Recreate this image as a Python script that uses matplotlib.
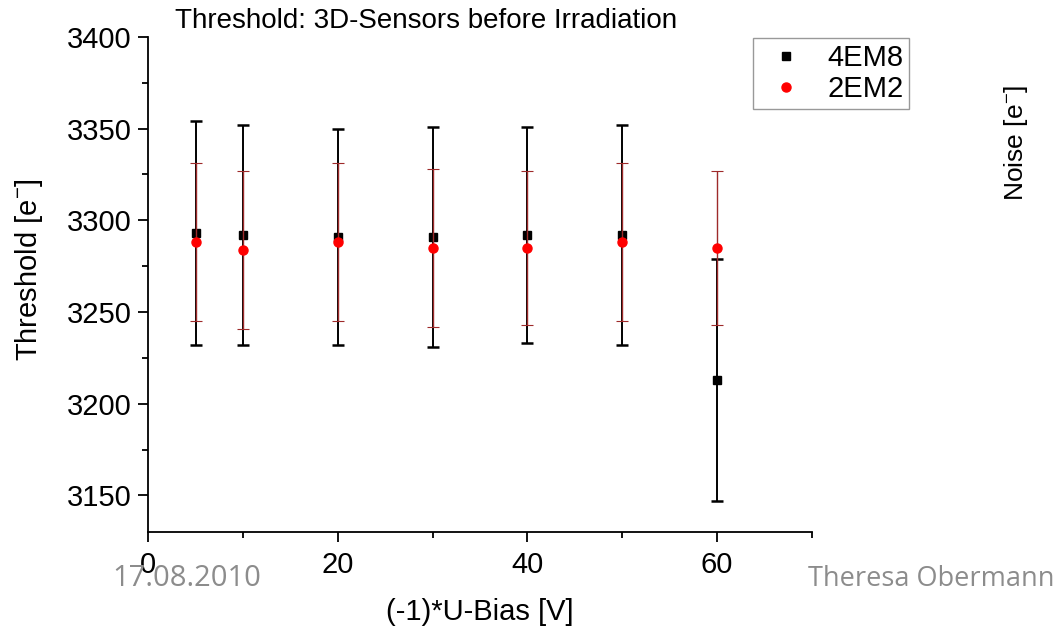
import matplotlib.pyplot as plt
from matplotlib.lines import Line2D
from matplotlib.ticker import MultipleLocator

plt.rcParams['font.family'] = ['Liberation Sans', 'DejaVu Sans']
plt.rcParams['mathtext.fontset'] = 'custom'
plt.rcParams['mathtext.rm'] = 'Liberation Sans'
plt.rcParams['mathtext.it'] = 'Liberation Sans'

bias = [5, 10, 20, 30, 40, 50, 60]

thr_4em8 = [3293, 3292, 3291, 3291, 3292, 3292, 3213]
err_4em8 = [61, 60, 59, 60, 59, 60, 66]

thr_2em2 = [3288, 3284, 3288, 3285, 3285, 3288, 3285]
err_2em2 = [43, 43, 43, 43, 42, 43, 42]

fig = plt.figure(figsize=(10.58, 6.27), dpi=100)
ax = fig.add_axes([0.140, 0.1515, 0.6275, 0.7895])

ax.errorbar(bias, thr_4em8, yerr=err_4em8, fmt='s', color='black',
            ms=6, elinewidth=1.4, capsize=4, capthick=1.8, zorder=3)
ax.errorbar(bias, thr_2em2, yerr=err_2em2, fmt='o', color='red',
            ecolor='#9e2a2a', ms=6.5, elinewidth=1.0, capsize=4, capthick=0.8,
            zorder=4)

ax.set_xlim(0, 70)
ax.set_ylim(3130, 3400)
ax.xaxis.set_major_locator(MultipleLocator(20))
ax.xaxis.set_minor_locator(MultipleLocator(10))
ax.yaxis.set_major_locator(MultipleLocator(50))
ax.yaxis.set_minor_locator(MultipleLocator(25))
ax.set_yticks([3150, 3200, 3250, 3300, 3350, 3400])
ax.tick_params(which='major', direction='out', length=7, width=1.3, labelsize=21)
ax.tick_params(axis='x', which='major', pad=7)
ax.tick_params(axis='y', which='major', pad=5)
ax.tick_params(which='minor', direction='out', length=4, width=1.3)

for s in ['top', 'right']:
    ax.spines[s].set_visible(False)
for s in ['left', 'bottom']:
    ax.spines[s].set_linewidth(1.3)

ax.set_xlabel('(-1)*U-Bias [V]', fontsize=21)
ax.xaxis.label.set_va('center')
ax.xaxis.set_label_coords(0.5, -0.162)
ax.set_ylabel('Threshold [e$^{-}$]', fontsize=21)
ax.yaxis.label.set_va('center')
ax.yaxis.set_label_coords(-0.179, 0.53)

fig.text(0.165, 0.955, 'Threshold: 3D-Sensors before Irradiation', fontsize=20,
         va='baseline', ha='left')

handles = [Line2D([], [], ls='none', marker='s', ms=6, color='black'),
           Line2D([], [], ls='none', marker='o', ms=6.5, color='red')]
ax.legend(handles, ['4EM8', '2EM2'], loc='upper left',
          bbox_to_anchor=(0.911, 0.998), borderaxespad=0, fontsize=21,
          frameon=True, fancybox=False, edgecolor='#999999', framealpha=1,
          handletextpad=0.45, borderpad=0.2, labelspacing=0.1,
          handlelength=1.9)

fig.text(0.960, 0.772, 'Noise [e$^{-}$]', rotation=90, fontsize=19,
         ha='center', va='center')

fig.text(0.106, 0.077, '17.08.2010', fontsize=21, color='#8c8c8c',
         family=['Open Sans', 'DejaVu Sans'], va='center')
fig.text(0.997, 0.077, 'Theresa Obermann', fontsize=19.5, color='#8c8c8c',
         family=['Open Sans', 'DejaVu Sans'], va='center', ha='right')

fig.savefig('out.png', dpi=100)
